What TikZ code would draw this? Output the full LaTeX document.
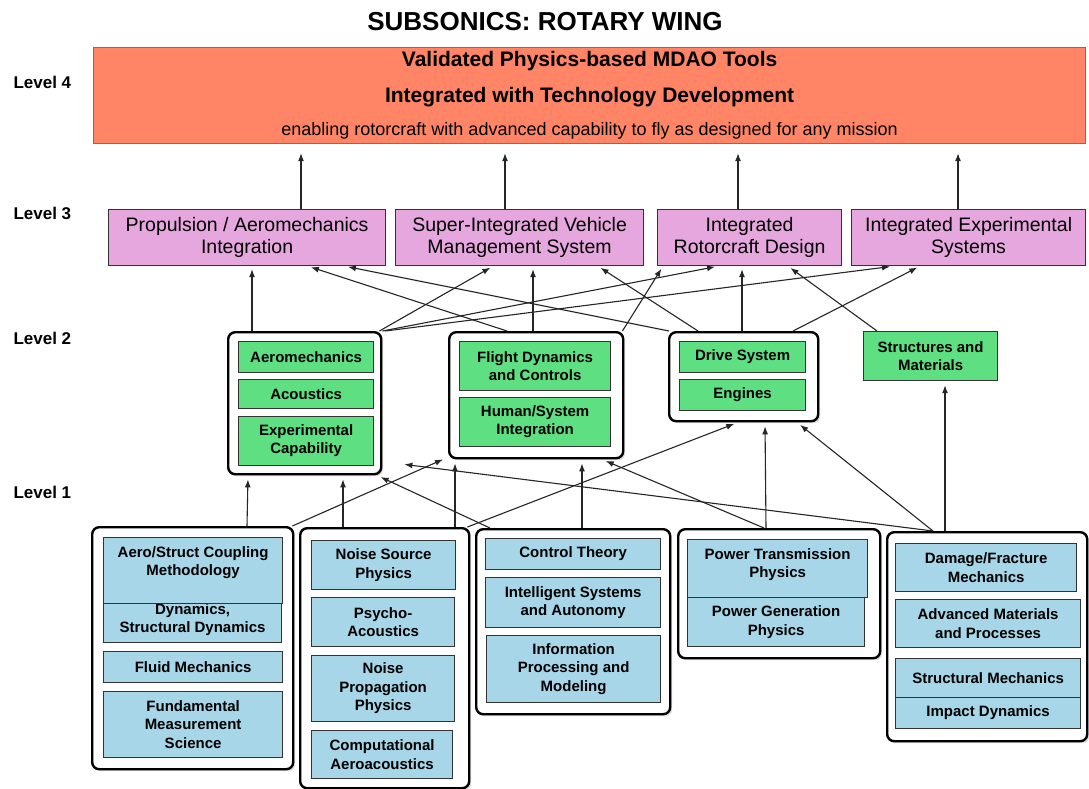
\documentclass[tikz,border=0pt]{standalone}
\usepackage{fontspec}
\setmainfont{Liberation Sans}
\usetikzlibrary{arrows.meta,shadows}
\definecolor{mdaored}{RGB}{255,133,102}
\definecolor{lvthree}{RGB}{230,166,222}
\definecolor{lvtwo}{RGB}{94,224,130}
\definecolor{lvone}{RGB}{166,214,232}

\begin{document}
\begin{tikzpicture}[x=1pt,y=-1pt,
  box/.style={draw=black!80,line width=1.2pt,anchor=north west,inner sep=0pt,align=center},
  topbox/.style={box,fill=mdaored,draw=black!55},
  capbox/.style={box,fill=lvthree,font=\fontsize{19.5}{22}\selectfont},
  areabox/.style={box,fill=lvtwo,font=\fontsize{15}{18}\selectfont\bfseries},
  discbox/.style={box,fill=lvone,font=\fontsize{15}{18.5}\selectfont\bfseries},
  grpbox/.style={draw=black,line width=2.4pt,rounded corners=7pt,fill=white,anchor=north west,inner sep=0pt,
    drop shadow={shadow xshift=2pt,shadow yshift=-2pt,fill=black!25}},
  lvl/.style={anchor=west,font=\fontsize{17}{20}\selectfont\bfseries},
  up/.style={-{Latex[length=8pt,width=6pt]},line width=1.1pt,black!85}]
\path[use as bounding box,fill=white] (0,0) rectangle (1089,788);

\node[font=\fontsize{26}{30}\selectfont\bfseries] (title) at (545,22) {SUBSONICS: ROTARY WING};
\node[lvl] (lvfour) at (10,82) {Level 4};
\node[lvl] (lvthree) at (10,213) {Level 3};
\node[lvl] (lvtwo) at (10,338) {Level 2};
\node[lvl] (lvone) at (10,492) {Level 1};

\node[topbox,minimum width=992pt,minimum height=96pt,font=\fontsize{21}{36}\selectfont\bfseries] (mdao) at (93,47)
 {Validated Physics-based MDAO Tools\\Integrated with Technology Development\\[-3pt]\mdseries\fontsize{18}{22}\selectfont enabling rotorcraft with advanced capability to fly as designed for any mission};

\node[capbox,minimum width=277pt,minimum height=56pt] (propint) at (108,209) {Propulsion / Aeromechanics\\Integration};
\node[capbox,minimum width=248pt,minimum height=56pt] (vehmgmt) at (395,209) {Super-Integrated Vehicle\\Management System};
\node[capbox,minimum width=184pt,minimum height=56pt] (rcdesign) at (657,209) {Integrated\\Rotorcraft Design};
\node[capbox,minimum width=234pt,minimum height=56pt] (expsys) at (851,209) {Integrated Experimental\\Systems};

\node[grpbox,minimum width=153pt,minimum height=142pt] (aerogrp) at (227,331) {};
\node[areabox,minimum width=135pt,minimum height=31pt] (aeromech) at (238,341) {Aeromechanics};
\node[areabox,minimum width=135pt,minimum height=29pt] (acoustics) at (238,379) {Acoustics};
\node[areabox,minimum width=135pt,minimum height=49pt] (expcap) at (238,416) {Experimental\\Capability};

\node[grpbox,minimum width=174pt,minimum height=126pt] (fltgrp) at (448,331) {};
\node[areabox,minimum width=151pt,minimum height=49pt] (fltdyn) at (459,341) {Flight Dynamics\\and Controls};
\node[areabox,minimum width=151pt,minimum height=49pt] (humsys) at (459,397) {Human/System\\Integration};

\node[grpbox,minimum width=149pt,minimum height=89pt] (drvgrp) at (668,331) {};
\node[areabox,minimum width=126pt,minimum height=31pt] (drivesys) at (679,341) {Drive System};
\node[areabox,minimum width=126pt,minimum height=31pt] (engines) at (679,379) {Engines};

\node[areabox,minimum width=134pt,minimum height=49pt] (structmat) at (863,331) {Structures and\\Materials};

\node[grpbox,minimum width=201pt,minimum height=242pt] (fundgrp) at (91,526) {};
\node[discbox,minimum width=178pt,minimum height=46pt] (dynamics) at (103,596) {Dynamics,\\Structural Dynamics};
\node[discbox,minimum width=179pt,minimum height=66pt,text depth=19pt] (aerostruct) at (103,537) {Aero/Struct Coupling\\Methodology};
\node[discbox,minimum width=179pt,minimum height=31pt] (fluidmech) at (103,651) {Fluid Mechanics};
\node[discbox,minimum width=179pt,minimum height=66pt] (fundmeas) at (103,691) {Fundamental\\Measurement\\Science};

\node[grpbox,minimum width=169pt,minimum height=260pt] (acougrp) at (299,527) {};
\node[discbox,minimum width=144pt,minimum height=49pt] (noisesrc) at (311,540) {Noise Source\\Physics};
\node[discbox,minimum width=143pt,minimum height=49pt] (psycho) at (311,597) {Psycho-\\Acoustics};
\node[discbox,minimum width=143pt,minimum height=66pt] (noiseprop) at (311,655) {Noise\\Propagation\\Physics};
\node[discbox,minimum width=141pt,minimum height=48pt] (compaero) at (311,730) {Computational\\Aeroacoustics};

\node[grpbox,minimum width=194pt,minimum height=185pt] (ctrlgrp) at (475,528) {};
\node[discbox,minimum width=175pt,minimum height=31pt] (ctrltheory) at (485,538) {Control Theory};
\node[discbox,minimum width=175pt,minimum height=50pt] (intelsys) at (485,577) {Intelligent Systems\\and Autonomy};
\node[discbox,minimum width=174pt,minimum height=67pt] (infoproc) at (486,635) {Information\\Processing and\\Modeling};

\node[grpbox,minimum width=202pt,minimum height=129pt] (powgrp) at (677,528) {};
\node[discbox,minimum width=180pt,minimum height=58pt,text depth=11pt] (powtrans) at (687,539) {Power Transmission\\Physics};
\node[discbox,minimum width=177pt,minimum height=49pt] (powgen) at (687,597) {Power Generation\\Physics};

\node[grpbox,minimum width=200pt,minimum height=209pt] (matgrp) at (886,531) {};
\node[discbox,minimum width=181pt,minimum height=48pt] (damage) at (895,543) {Damage/Fracture\\Mechanics};
\node[discbox,minimum width=185pt,minimum height=48pt] (advmat) at (895,599) {Advanced Materials\\and Processes};
\node[discbox,minimum width=185pt,minimum height=39pt] (structmech) at (895,658) {Structural Mechanics};
\node[discbox,minimum width=185pt,minimum height=31pt] (impact) at (895,697) {Impact Dynamics};

\draw[up,shorten >=9pt] ([xshift=193pt]propint.north west) -- ([xshift=193pt]propint.north west |- mdao.south);
\draw[up,shorten >=9pt] ([xshift=110pt]vehmgmt.north west) -- ([xshift=110pt]vehmgmt.north west |- mdao.south);
\draw[up,shorten >=9pt] ([xshift=81pt]rcdesign.north west) -- ([xshift=81pt]rcdesign.north west |- mdao.south);
\draw[up,shorten >=9pt] ([xshift=107pt]expsys.north west) -- ([xshift=107pt]expsys.north west |- mdao.south);

\draw[up,shorten >=3pt] ([xshift=25pt]aerogrp.north west) -- ([xshift=144pt]propint.south west);
\draw[up,shorten >=3pt] ([xshift=59pt]fltgrp.north west) -- ([xshift=200pt]propint.south west);
\draw[up,shorten >=3pt] ([xshift=1pt]drvgrp.north west) -- ([xshift=237pt]propint.south west);
\draw[up,shorten >=3pt] ([xshift=-3pt]aerogrp.north east) -- ([xshift=98pt]vehmgmt.south west);
\draw[up,shorten >=3pt] ([xshift=85pt]fltgrp.north west) -- ([xshift=138pt]vehmgmt.south west);
\draw[up,shorten >=3pt] ([xshift=30pt]drvgrp.north west) -- ([xshift=203pt]vehmgmt.south west);
\draw[up,shorten >=3pt] (aerogrp.north east) -- ([xshift=61pt]rcdesign.south west);
\draw[up,shorten >=3pt] ([xshift=-2pt]fltgrp.north east) -- ([xshift=6pt]rcdesign.south west);
\draw[up,shorten >=3pt] ([xshift=74pt]drvgrp.north west) -- ([xshift=85pt]rcdesign.south west);
\draw[up,shorten >=3pt] ([xshift=14pt]structmat.north west) -- ([xshift=131pt]rcdesign.south west);
\draw[up,shorten >=3pt] ([xshift=3pt]aerogrp.north east) -- ([xshift=42pt]expsys.south west);
\draw[up,shorten >=3pt] ([xshift=125pt]drvgrp.north west) -- ([xshift=69pt]expsys.south west);

\draw[up,shorten >=4pt] ([xshift=156pt]fundgrp.north west) -- ([xshift=21pt]aerogrp.south west);
\draw[up,shorten >=4pt] ([xshift=44pt]acougrp.north west) -- ([xshift=116pt]aerogrp.south west);
\draw[up,shorten >=4pt] ([xshift=15pt]ctrlgrp.north west) -- ([xshift=150pt]aerogrp.south west);
\draw[up] ([xshift=47pt]matgrp.north west) -- ([xshift=22pt,yshift=11pt]aerogrp.south east);
\draw[up] ([xshift=-2pt]fundgrp.north east) -- ([xshift=-5pt]fltgrp.south west);
\draw[up,shorten >=4pt] ([xshift=156pt]acougrp.north west) -- ([xshift=7pt]fltgrp.south west);
\draw[up,shorten >=4pt] ([xshift=107pt]ctrlgrp.north west) -- ([xshift=134pt]fltgrp.south west);
\draw[up,shorten >=4pt] ([xshift=87pt]powgrp.north west) -- ([xshift=154pt]fltgrp.south west);
\draw[up,shorten >=4pt] ([xshift=-3pt]acougrp.north east) -- ([xshift=70pt]drvgrp.south west);
\draw[up,shorten >=4pt] ([xshift=89pt]powgrp.north west) -- ([xshift=97pt]drvgrp.south west);
\draw[up,shorten >=4pt] ([xshift=47pt]matgrp.north west) -- ([xshift=129pt]drvgrp.south west);
\draw[up,shorten >=4pt] ([xshift=59pt]matgrp.north west) -- ([xshift=82pt]structmat.south west);
\end{tikzpicture}
\end{document}
